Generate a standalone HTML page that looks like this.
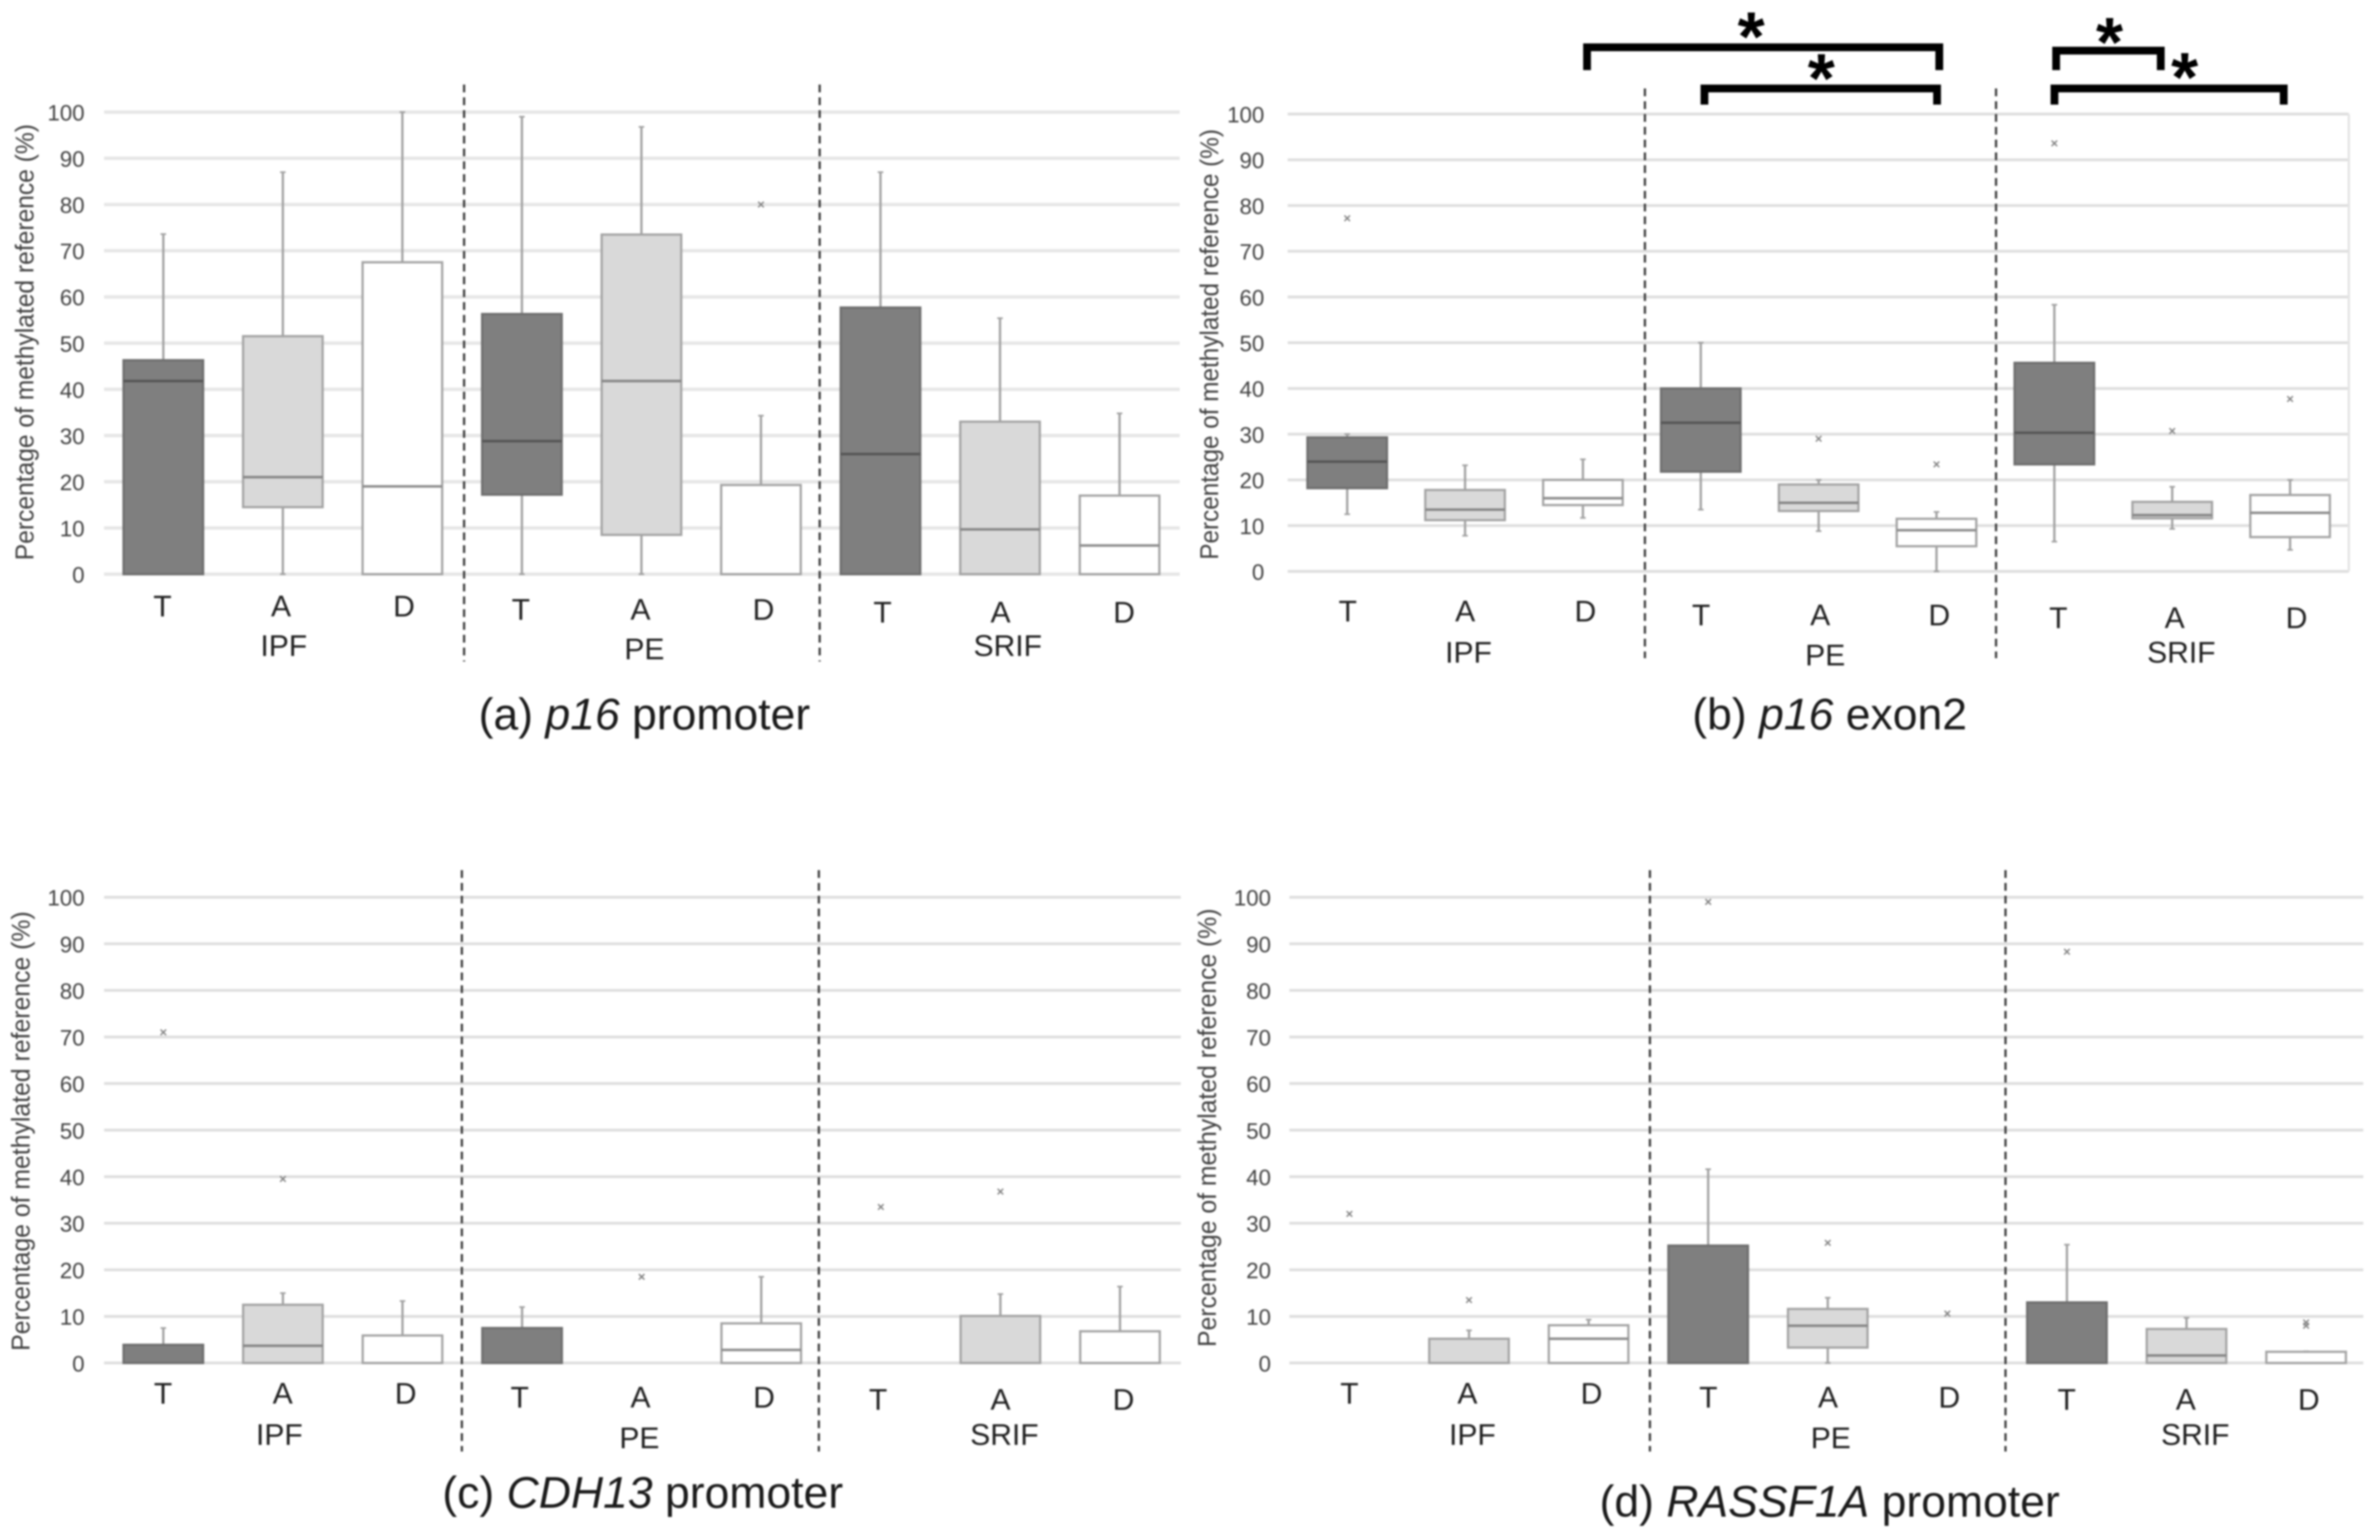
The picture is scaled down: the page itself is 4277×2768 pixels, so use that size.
<!DOCTYPE html>
<html lang="en">
<head>
<meta charset="utf-8">
<title>Percentage of methylated reference box plots</title>
<style>
  html, body { margin: 0; padding: 0; background: #fff; }
  #figure { display: block; width: 4277px; height: 2768px; filter: blur(1.6px); font-family: "Liberation Sans", Arial, sans-serif; }
  .panel-title { font-size: 80px; fill: #1a1a1a; text-anchor: middle; }
  .y-title { font-size: 46px; fill: #404040; text-anchor: middle; }
  .tick { font-size: 40px; fill: #404040; text-anchor: end; }
  .cond, .group { font-size: 54px; fill: #1f1f1f; text-anchor: middle; }
  .star { font-size: 125px; font-weight: bold; fill: #000; text-anchor: middle; }
</style>
</head>
<body>
<svg id="figure" xmlns="http://www.w3.org/2000/svg" width="4277" height="2768" viewBox="0 0 4277 2768">
  <rect width="4277" height="2768" fill="#fff"/>
  <g id="marks"></g>

  <text class="panel-title" x="1158" y="1311">(a) <tspan font-style="italic">p16</tspan> promoter</text>
  <text class="panel-title" x="3288" y="1311">(b) <tspan font-style="italic">p16</tspan> exon2</text>
  <text class="panel-title" x="1155" y="2710">(c) <tspan font-style="italic">CDH13</tspan> promoter</text>
  <text class="panel-title" x="3288" y="2726">(d) <tspan font-style="italic">RASSF1A</tspan> promoter</text>

  <text class="y-title" transform="translate(60 615) rotate(-90)" textLength="784" lengthAdjust="spacingAndGlyphs">Percentage of methylated reference (%)</text>
  <text class="y-title" transform="translate(2189 619) rotate(-90)" textLength="774" lengthAdjust="spacingAndGlyphs">Percentage of methylated reference (%)</text>
  <text class="y-title" transform="translate(53 2033) rotate(-90)" textLength="790" lengthAdjust="spacingAndGlyphs">Percentage of methylated reference (%)</text>
  <text class="y-title" transform="translate(2185 2027) rotate(-90)" textLength="788" lengthAdjust="spacingAndGlyphs">Percentage of methylated reference (%)</text>

  <text class="group" x="510" y="1179">IPF</text>
  <text class="group" x="1158" y="1185">PE</text>
  <text class="group" x="1811" y="1179">SRIF</text>
  <text class="group" x="2639" y="1191">IPF</text>
  <text class="group" x="3280" y="1196">PE</text>
  <text class="group" x="3920" y="1191">SRIF</text>
  <text class="group" x="502" y="2597">IPF</text>
  <text class="group" x="1149" y="2603">PE</text>
  <text class="group" x="1805" y="2597">SRIF</text>
  <text class="group" x="2646" y="2597">IPF</text>
  <text class="group" x="3290" y="2603">PE</text>
  <text class="group" x="3945" y="2597">SRIF</text>

  <g fill="none" stroke="#000" stroke-width="14">
    <path d="M2860 126V85H3493V126" transform="translate(-8 0)"/>
    <path d="M3071 188V159H3489V188" transform="translate(-8 0)"/>
    <path d="M3703 126V91H3891V126" transform="translate(-8 0)"/>
    <path d="M3700 188V159H4112V188" transform="translate(-8 0)"/>
  </g>
  <text class="star" x="3147" y="109">*</text>
  <text class="star" x="3273" y="184">*</text>
  <text class="star" x="3791" y="119">*</text>
  <text class="star" x="3926" y="182">*</text>
</svg>

<script>
// Shared categories and tick labels
const conditions = ['T', 'A', 'D'];
const groups = ['IPF', 'PE', 'SRIF'];
const yTickLabels = [0, 10, 20, 30, 40, 50, 60, 70, 80, 90, 100];

// Panel (a) p16 promoter — order: IPF T,A,D; PE T,A,D; SRIF T,A,D
const aLow     = [0, 0, 0, 0, 0, 0, 0, 0, 0];
const aQ1      = [0, 14.5, 0, 17.2, 8.5, 0, 0, 0, 0];
const aMedian  = [41.8, 21, 19, 28.8, 41.8, 0, 26, 9.7, 6.2];
const aQ3      = [46.3, 51.5, 67.5, 56.3, 73.5, 19.3, 57.7, 33, 17];
const aHigh    = [73.6, 87, 100, 99, 96.8, 34.3, 87, 55.4, 34.8];
const aOutliers = [[], [], [], [], [], [80], [], [], []];

// Panel (b) p16 exon2
const bLow     = [12.5, 7.8, 11.7, 13.5, 8.8, 0, 6.5, 9.3, 4.7];
const bQ1      = [18.2, 11.2, 14.5, 21.8, 13.2, 5.5, 23.4, 11.6, 7.5];
const bMedian  = [24, 13.5, 16, 32.5, 15, 9, 30.3, 12.3, 12.8];
const bQ3      = [29.3, 17.8, 20, 40, 19, 11.5, 45.6, 15.2, 16.7];
const bHigh    = [30, 23.2, 24.5, 50, 20, 13, 58.3, 18.5, 20];
const bOutliers = [[77.2], [], [], [], [29], [23.4], [93.6], [30.7], [37.7]];

// Panel (c) CDH13 promoter (null = no box drawn)
const cLow     = [0, 0, 0, 0, null, 0, null, 0, 0];
const cQ1      = [0, 0, 0, 0, null, 0, null, 0, 0];
const cMedian  = [0, 3.7, 0, 0, null, 2.8, null, 0, 0];
const cQ3      = [3.9, 12.5, 5.9, 7.5, null, 8.5, null, 10.1, 6.8];
const cHigh    = [7.5, 15, 13.3, 12, null, 18.5, null, 14.8, 16.4];
const cOutliers = [[71], [39.5], [], [], [18.5], [], [33.5], [36.8], []];

// Panel (d) RASSF1A promoter (null = no box drawn)
const dLow     = [null, 0, 0, 0, 0, null, 0, 0, 0];
const dQ1      = [null, 0, 0, 0, 3.3, null, 0, 0, 0];
const dMedian  = [null, 0, 5.2, 0, 8, null, 0, 1.6, 0];
const dQ3      = [null, 5.2, 8.1, 25.2, 11.6, null, 13, 7.3, 2.4];
const dHigh    = [null, 7, 9.3, 41.6, 14, null, 25.4, 9.7, 2.5];
const dOutliers = [[32], [13.5], [], [99], [25.8], [10.6], [88.3], [], [8, 8.7]];

const svgNS = 'http://www.w3.org/2000/svg';
const marks = document.getElementById('marks');

function make(parent, tag, attrs) {
  const node = document.createElementNS(svgNS, tag);
  for (const k in attrs) node.setAttribute(k, attrs[k]);
  parent.appendChild(node);
  return node;
}

const fills = ['#7f7f7f', '#d9d9d9', '#ffffff'];
const edges = ['#6e6e6e', '#a3a3a3', '#a3a3a3'];
const medians = ['#555555', '#858585', '#8c8c8c'];

function drawPanel(key, d, geo) {
  const yScale = v => geo.y0 + (geo.y100 - geo.y0) * v / 100;
  const xScale = i => geo.firstCenter + i * geo.step;
  const halfBox = 71.5;

  const panel = make(marks, 'g', {});
  
  

  yTickLabels.forEach(t => {
    const line = make(panel, 'line', { x1: geo.left, x2: geo.right, y1: yScale(t), y2: yScale(t), stroke: geo.gridColor, 'stroke-width': geo.gridWidth });
    
    
    const label = make(panel, 'text', { class: 'tick', x: geo.tickRight, y: yScale(t) + 15 });
    label.textContent = t;
    
    
  });

  if (geo.border) {
    const edge = make(panel, 'line', { x1: geo.right, x2: geo.right, y1: geo.y100, y2: geo.y0, stroke: '#e4e4e4', 'stroke-width': 4 });
    
    
  }

  d.q3.forEach((_, i) => {
    const cond = i % 3;
    const cx = xScale(i);
    const g = make(panel, 'g', {});
    
    

    if (d.q3[i] !== null) {
      const whisk = (a, b) => {
        make(g, 'line', { x1: cx, x2: cx, y1: yScale(a), y2: yScale(b), stroke: '#a0a0a0', 'stroke-width': 4 });
        make(g, 'line', { x1: cx - 5, x2: cx + 5, y1: yScale(b), y2: yScale(b), stroke: '#a0a0a0', 'stroke-width': 3 });
      };
      if (d.high[i] > d.q3[i]) whisk(d.q3[i], d.high[i]);
      if (d.low[i] < d.q1[i]) whisk(d.q1[i], d.low[i]);
      make(g, 'rect', { x: cx - halfBox, y: yScale(d.q3[i]), width: halfBox * 2, height: yScale(d.q1[i]) - yScale(d.q3[i]), fill: fills[cond], stroke: edges[cond], 'stroke-width': 4 });
      if (d.median[i] > d.q1[i]) {
        make(g, 'line', { x1: cx - halfBox, x2: cx + halfBox, y1: yScale(d.median[i]), y2: yScale(d.median[i]), stroke: medians[cond], 'stroke-width': 4.5 });
      }
    }

    d.outliers[i].forEach(v => {
      const oy = yScale(v);
      make(g, 'path', { d: 'M' + (cx - 5) + ' ' + (oy - 5) + 'L' + (cx + 5) + ' ' + (oy + 5) + 'M' + (cx + 5) + ' ' + (oy - 5) + 'L' + (cx - 5) + ' ' + (oy + 5), stroke: '#808080', 'stroke-width': 2.5, fill: 'none' });
    });

    const label = make(panel, 'text', { class: 'cond', x: geo.condX[i], y: geo.condY[Math.floor(i / 3)] });
    label.textContent = conditions[cond];
    
    
  });

  geo.dashX.forEach((x, n) => {
    const dash = make(panel, 'line', { x1: x, x2: x, y1: geo.dashTop, y2: geo.dashBottom, stroke: '#3a3a3a', 'stroke-width': 4, 'stroke-dasharray': '14 9' });
    
    
  });
}

drawPanel('a', { low: aLow, q1: aQ1, median: aMedian, q3: aQ3, high: aHigh, outliers: aOutliers }, {
  y0: 1032, y100: 201.5, left: 187, right: 2120, firstCenter: 293.5, step: 214.8, tickRight: 152,
  gridColor: '#e6e6e6', gridWidth: 6, dashX: [834, 1473], dashTop: 152, dashBottom: 1189,
  condX: [292, 505, 726, 936, 1151, 1372, 1586, 1798, 2020], condY: [1108, 1114, 1119]
});
drawPanel('b', { low: bLow, q1: bQ1, median: bMedian, q3: bQ3, high: bHigh, outliers: bOutliers }, {
  y0: 1027, y100: 205, left: 2314, right: 4221, firstCenter: 2421, step: 211.8, tickRight: 2272,
  gridColor: '#dedede', gridWidth: 5, border: true, dashX: [2956, 3587], dashTop: 159, dashBottom: 1183,
  condX: [2422, 2633, 2849, 3057, 3271, 3485, 3699, 3908, 4127], condY: [1117, 1124, 1129]
});
drawPanel('c', { low: cLow, q1: cQ1, median: cMedian, q3: cQ3, high: cHigh, outliers: cOutliers }, {
  y0: 2449.8, y100: 1612.7, left: 187, right: 2122, firstCenter: 293.5, step: 214.9, tickRight: 152,
  gridColor: '#dedede', gridWidth: 5, dashX: [830, 1471.5], dashTop: 1564, dashBottom: 2609,
  condX: [293, 508, 729, 934, 1151, 1373, 1578, 1798, 2019], condY: [2523, 2530, 2534]
});
drawPanel('d', { low: dLow, q1: dQ1, median: dMedian, q3: dQ3, high: dHigh, outliers: dOutliers }, {
  y0: 2449.8, y100: 1612.7, left: 2317, right: 4247, firstCenter: 2425, step: 214.9, tickRight: 2284,
  gridColor: '#dedede', gridWidth: 5, dashX: [2965, 3604], dashTop: 1564, dashBottom: 2609,
  condX: [2425, 2637, 2860, 3070, 3285, 3503, 3714, 3928, 4149], condY: [2523, 2530, 2534]
});
</script>
</body>
</html>
